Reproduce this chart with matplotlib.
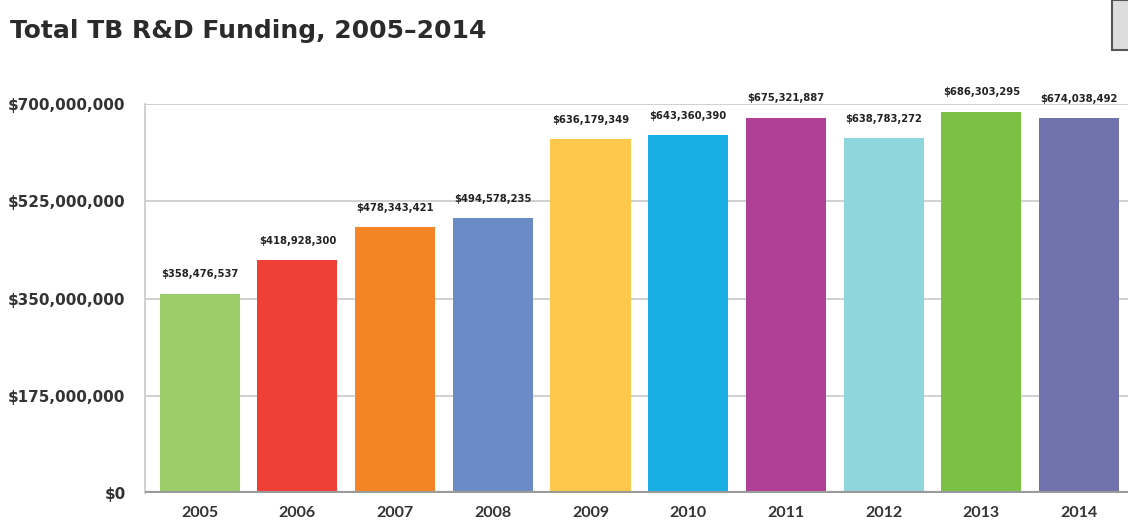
import matplotlib.pyplot as plt
from matplotlib.patches import Rectangle
from matplotlib.ticker import FuncFormatter

years = ["2005", "2006", "2007", "2008", "2009", "2010", "2011", "2012", "2013", "2014"]
funding = [358476537, 418928300, 478343421, 494578235, 636179349,
           643360390, 675321887, 638783272, 686303295, 674038492]
colors = ["#9bcd68", "#ee4036", "#f58426", "#6b8bc7", "#fdc84b",
          "#18ade3", "#b03f96", "#8fd5dc", "#7bc143", "#6f72ad"]
yticks = [0, 175000000, 350000000, 525000000, 700000000]

fig = plt.figure(figsize=(11.28, 5.21), dpi=100)
ax = fig.add_axes([0.1285, 0.0537, 0.8715, 0.7467])

x = range(len(years))
ax.bar(x, funding, width=0.82, color=colors, zorder=3)

for i, v in enumerate(funding):
    ax.text(i, min(v + 35000000, 727000000), "$" + format(v, ","),
            ha="center", va="center", fontsize=8, fontweight="bold",
            fontstretch="condensed", family=["DejaVu Sans"], color="#222222",
            clip_on=False)

ax.set_ylim(0, 700000000)
ax.set_xlim(-0.56, 9.5)
ax.set_yticks(yticks)
ax.yaxis.set_major_formatter(FuncFormatter(lambda v, p: "$" + format(int(v), ",")))
ax.set_xticks(list(x))
ax.set_xticklabels(years)
ax.grid(axis="y", color="#c8c8c8", linewidth=1.2, zorder=0)

for s in ["top", "right", "bottom"]:
    ax.spines[s].set_visible(False)
ax.spines["left"].set_color("#c8c8c8")
ax.spines["left"].set_linewidth(1.2)
ax.axhline(0, color="#9a9a9a", linewidth=3, zorder=4)

ax.tick_params(length=0)
ax.tick_params(axis="y", pad=14)
ax.tick_params(axis="x", pad=9)
for lab in ax.get_yticklabels():
    lab.set_fontsize(11)
    lab.set_fontweight("bold")
    lab.set_color("#333333")
for lab in ax.get_xticklabels():
    lab.set_fontsize(11.5)
    lab.set_fontweight("bold")
    lab.set_family(["Lato", "DejaVu Sans"])
    lab.set_color("#333333")

fig.text(0.009, 0.94, "Total TB R&D Funding, 2005\u20132014", fontsize=18,
         fontweight="bold", family=["DejaVu Sans"], color="#2b2b2b",
         ha="left", va="center")

# small grey box at the top right corner of the screenshot
fig.patches.append(Rectangle((1112 / 1128, 1 - 50 / 521), 0.02, 50 / 521,
                             transform=fig.transFigure, facecolor="#dddddd",
                             edgecolor="#555555", linewidth=1.5))

fig.savefig("out.png", dpi=100)
